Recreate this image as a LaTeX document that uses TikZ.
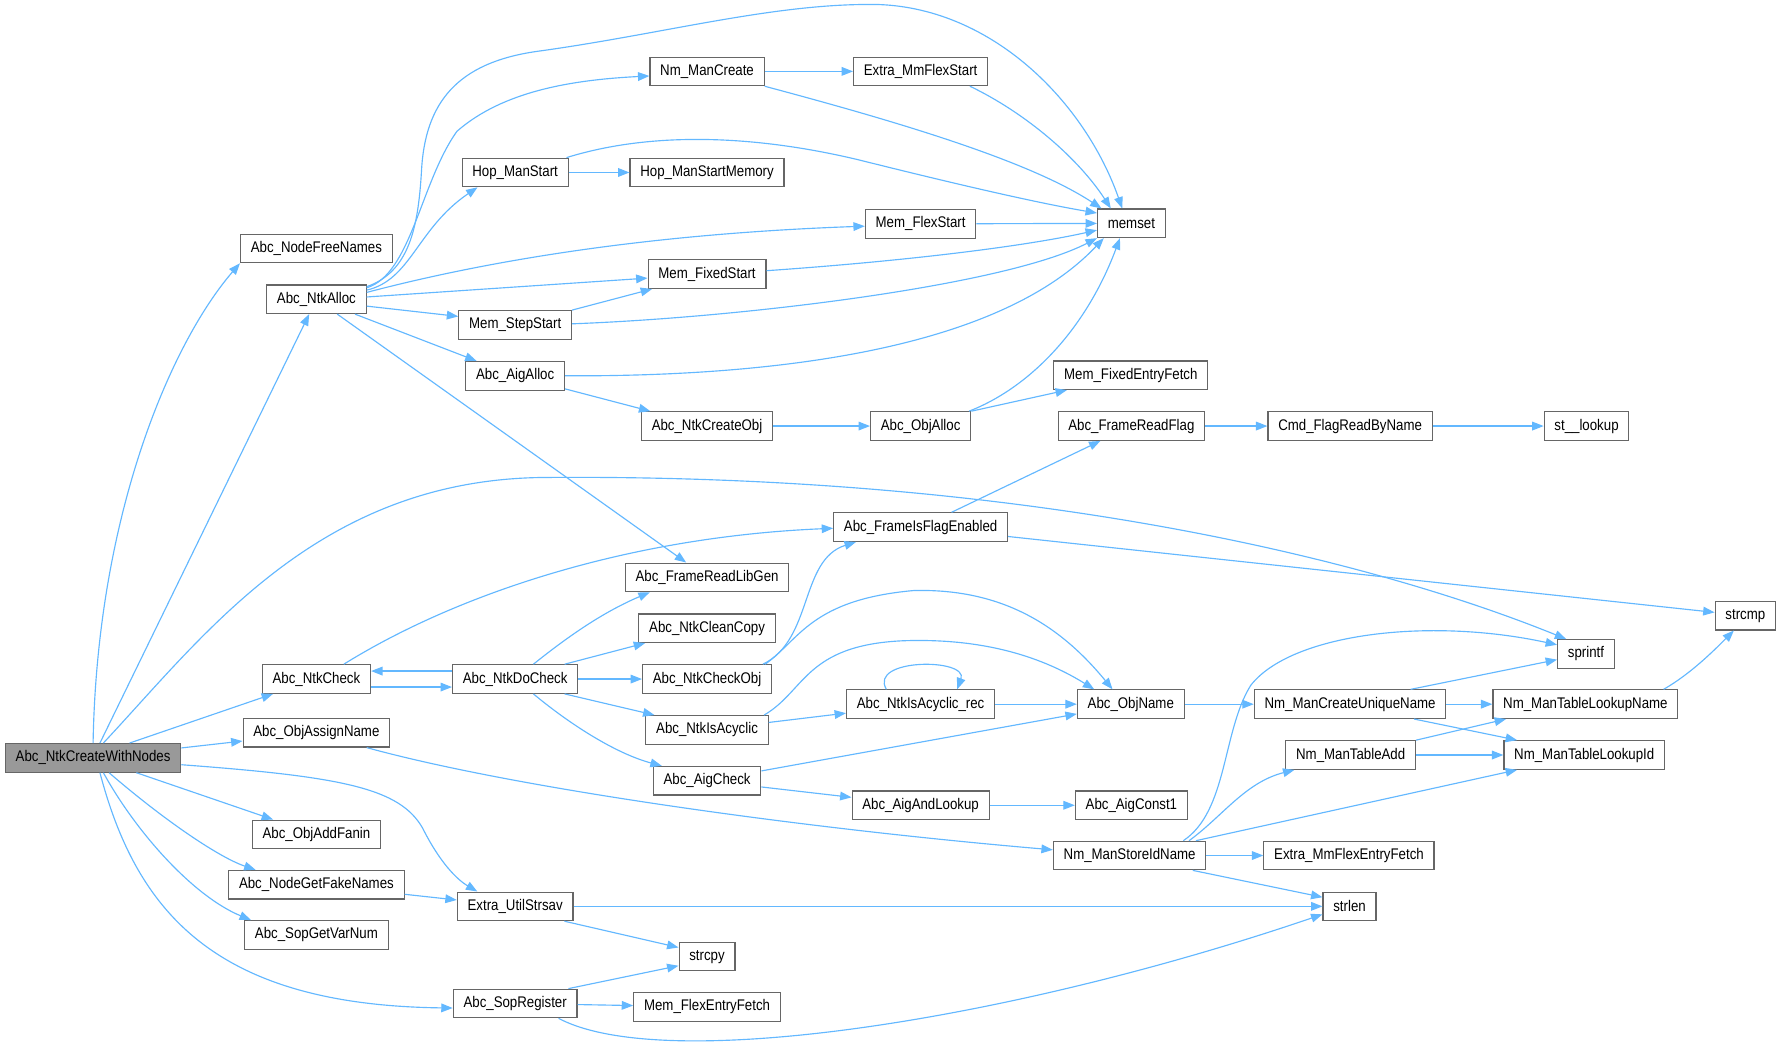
\documentclass[tikz,border=0pt]{standalone}
\usepackage{fontspec}
\setmainfont{Liberation Sans}[FakeStretch=0.86]
\usetikzlibrary{arrows.meta}
\definecolor{edgeblue}{HTML}{63B8FF}
\definecolor{boxgray}{HTML}{666666}
\definecolor{rootgray}{HTML}{999999}

\begin{document}
\begin{tikzpicture}[x=0.5pt,y=-0.5pt,
  every node/.style={font=\fontsize{6.75}{8}\selectfont},
  fn/.style={draw=boxgray,fill=white,line width=.5pt,minimum height=12.5pt,inner xsep=4.5pt,inner ysep=0pt},
  root/.style={fn,fill=rootgray},
  call/.style={draw=edgeblue,line width=.5pt,-{Triangle[length=5pt,width=3.8pt]}}]
\useasboundingbox (0,0) rectangle (1568,915);
\fill[white] (0,0) rectangle (1568,915);
\node[root] (cwn) at (81.5,663.5) {Abc\_NtkCreateWithNodes};
\node[fn] (nfn) at (277,217.5) {Abc\_NodeFreeNames};
\node[fn] (ntkalloc) at (277,262) {Abc\_NtkAlloc};
\node[fn] (ntkcheck) at (277,594.5) {Abc\_NtkCheck};
\node[fn] (oan) at (277,641.5) {Abc\_ObjAssignName};
\node[fn] (oaf) at (277,730.5) {Abc\_ObjAddFanin};
\node[fn] (ngf) at (277,774.5) {Abc\_NodeGetFakeNames};
\node[fn] (sgv) at (277,818.5) {Abc\_SopGetVarNum};
\node[fn] (hopstart) at (451,151) {Hop\_ManStart};
\node[fn] (memstep) at (451,284.5) {Mem\_StepStart};
\node[fn] (aigalloc) at (451,329) {Abc\_AigAlloc};
\node[fn] (docheck) at (451,594.5) {Abc\_NtkDoCheck};
\node[fn] (eus) at (451,793.5) {Extra\_UtilStrsav};
\node[fn] (sopreg) at (451,878.5) {Abc\_SopRegister};
\node[fn] (nmcreate) at (619,62.5) {Nm\_ManCreate};
\node[fn] (hopmem) at (619,151) {Hop\_ManStartMemory};
\node[fn] (memfixed) at (619,240) {Mem\_FixedStart};
\node[fn] (ncobj) at (619,373) {Abc\_NtkCreateObj};
\node[fn] (frlg) at (619,505.5) {Abc\_FrameReadLibGen};
\node[fn] (cleancopy) at (619,550) {Abc\_NtkCleanCopy};
\node[fn] (checkobj) at (619,594.5) {Abc\_NtkCheckObj};
\node[fn] (nia) at (619,639) {Abc\_NtkIsAcyclic};
\node[fn] (aigcheck) at (619,683.5) {Abc\_AigCheck};
\node[fn] (strcpy) at (619,837.5) {strcpy};
\node[fn] (mfef) at (619,881.5) {Mem\_FlexEntryFetch};
\node[fn] (extramm) at (806,62.5) {Extra\_MmFlexStart};
\node[fn] (memflex) at (806,196) {Mem\_FlexStart};
\node[fn] (objalloc) at (806,373) {Abc\_ObjAlloc};
\node[fn] (fife) at (806,461.5) {Abc\_FrameIsFlagEnabled};
\node[fn] (niarec) at (806,616.5) {Abc\_NtkIsAcyclic\_rec};
\node[fn] (aal) at (806,705) {Abc\_AigAndLookup};
\node[fn] (memset) at (990.5,195.5) {memset};
\node[fn] (mfixfetch) at (990,328.5) {Mem\_FixedEntryFetch};
\node[fn] (frf) at (990.5,373) {Abc\_FrameReadFlag};
\node[fn] (objname) at (990,616.5) {Abc\_ObjName};
\node[fn] (aigconst) at (990.5,705) {Abc\_AigConst1};
\node[fn] (storeid) at (989,749) {Nm\_ManStoreIdName};
\node[fn] (cmdflag) at (1182,373) {Cmd\_FlagReadByName};
\node[fn] (unique) at (1182,616.5) {Nm\_ManCreateUniqueName};
\node[fn] (tableadd) at (1182.5,661) {Nm\_ManTableAdd};
\node[fn] (mmfef) at (1181,749) {Extra\_MmFlexEntryFetch};
\node[fn] (strlen) at (1181.5,793.5) {strlen};
\node[fn] (stlookup) at (1389,373) {st\_\_lookup};
\node[fn] (sprintf) at (1388.5,572.5) {sprintf};
\node[fn] (lkname) at (1388,616.5) {Nm\_ManTableLookupName};
\node[fn] (lkid) at (1387,661) {Nm\_ManTableLookupId};
\node[fn] (strcmp) at (1528,539) {strcmp};
\draw[call] (cwn.north) .. controls (85,450) and (150,300) .. (nfn.south west);
\draw[call] ([xshift=3pt]cwn.north) -- (ntkalloc);
\draw[call] ([xshift=4.5pt]cwn.north) .. controls (180,555) and (280,418) .. (480,418) .. controls (900,415) and (1200,490) .. ([xshift=4pt]sprintf.north west);
\draw[call] ([xshift=16pt]cwn.north) -- (ntkcheck);
\draw[call] (cwn) -- (oan);
\draw[call] (cwn) -- (oaf);
\draw[call] ([xshift=7pt]cwn.south) .. controls (140,715) and (190,750) .. ([xshift=12pt]ngf.north west);
\draw[call] ([xshift=4.5pt]cwn.south) .. controls (120,730) and (170,785) .. ([xshift=3pt]sgv.north west);
\draw[call] ([yshift=-3pt]cwn.east) .. controls (300,680) and (350,690) .. (370,725) .. controls (385,755) and (400,770) .. ([xshift=9pt]eus.north west);
\draw[call] ([xshift=3pt]cwn.south) .. controls (120,800) and (190,880) .. ([yshift=-2pt]sopreg.west);
\draw[call] ([yshift=-1pt]ntkalloc.north east) .. controls (358,238) and (366,200) .. (369,150) .. controls (372,90) and (400,55) .. (470,45) .. controls (580,30) and (680,2) .. (770,4) .. controls (870,8) and (950,90) .. ([xshift=-4pt]memset.north);
\draw[call] ([yshift=-1.5pt]ntkalloc.north east) .. controls (360,240) and (368,160) .. (400,115) .. controls (440,80) and (500,70) .. ([yshift=-2pt]nmcreate.west);
\draw[call] ([yshift=-2.5pt]ntkalloc.north east) .. controls (360,245) and (365,200) .. ([xshift=7pt]hopstart.south west);
\draw[call] ([yshift=-3.5pt]ntkalloc.north east) .. controls (420,230) and (560,205) .. ([yshift=-1pt]memflex.west);
\draw[call] ([yshift=-5.5pt]ntkalloc.north east) -- (memfixed);
\draw[call] ([yshift=-3pt]ntkalloc.east) -- ([yshift=3.75pt]memstep.west);
\draw[call] (ntkalloc) -- (aigalloc);
\draw[call] (ntkalloc) -- (frlg);
\draw[call] (nmcreate) -- (extramm);
\draw[call] (nmcreate.south east) .. controls (780,105) and (900,140) .. ([xshift=2pt]memset.north west);
\draw[call] ([xshift=-8pt]extramm.south east) .. controls (900,100) and (945,140) .. ([xshift=-9pt]memset.north);
\draw[call] (hopstart) -- (hopmem);
\draw[call] ([xshift=-1pt]hopstart.north east) .. controls (570,115) and (660,118) .. (752,140) .. controls (840,162) and (910,178) .. ([yshift=4.5pt]memset.west);
\draw[call] (memflex) -- (memset);
\draw[call] ([yshift=1.5pt]memfixed.east) .. controls (800,228) and (900,215) .. ([yshift=-3pt]memset.west);
\draw[call] (memstep.north east) -- ([xshift=2pt]memfixed.south west);
\draw[call] ([yshift=0.5pt]memstep.east) .. controls (650,278) and (880,250) .. (memset.south west);
\draw[call] (aigalloc.east) .. controls (700,330) and (880,300) .. ([xshift=3pt]memset.south west);
\draw[call] (aigalloc) -- (ncobj);
\draw[call] (ncobj) -- (objalloc);
\draw[call] ([xshift=-1pt]objalloc.north east) .. controls (900,340) and (950,290) .. ([xshift=-5pt]memset.south);
\draw[call] (objalloc.north east) -- ([xshift=6pt]mfixfetch.south west);
\draw[call] (frf) -- (cmdflag);
\draw[call] (cmdflag) -- (stlookup);
\draw[call] (fife) -- (frf);
\draw[call] (fife) -- (strcmp);
\draw[call] ([xshift=12pt]ntkcheck.north) .. controls (400,520) and (550,470) .. ([yshift=-0.5pt]fife.west);
\draw[call] ([yshift=-3.5pt]ntkcheck.east) -- ([yshift=-3.5pt]docheck.west);
\draw[call] ([yshift=3.5pt]docheck.west) -- ([yshift=3.5pt]ntkcheck.east);
\draw[call] ([xshift=8pt]docheck.north) .. controls (500,555) and (530,535) .. ([xshift=11pt]frlg.south west);
\draw[call] ([xshift=-6pt]docheck.north east) -- ([xshift=3pt]cleancopy.south west);
\draw[call] (docheck) -- (checkobj);
\draw[call] ([xshift=-6pt]docheck.south east) -- ([xshift=4pt]nia.north west);
\draw[call] ([xshift=8pt]docheck.south) .. controls (500,635) and (540,660) .. ([xshift=4pt]aigcheck.north west);
\draw[call] ([xshift=-4pt]checkobj.north east) .. controls (712,560) and (700,490) .. ([xshift=10pt]fife.south west);
\draw[call] ([xshift=-3pt]checkobj.north east) .. controls (700,560) and (710,525) .. (800,517) .. controls (880,515) and (930,550) .. ([xshift=-8pt]objname.north);
\draw[call] (nia) -- (niarec);
\draw[call] ([xshift=-2pt]nia.north east) .. controls (705,605) and (705,565) .. (790,561) .. controls (870,558) and (920,580) .. ([xshift=-16pt]objname.north);
\draw[call] ([xshift=-15pt]niarec.north) .. controls (760,576) and (848,576) .. ([xshift=16pt]niarec.north);
\draw[call] (niarec) -- (objname);
\draw[call] (aigcheck) -- (objname);
\draw[call] (aigcheck) -- (aal);
\draw[call] (aal) -- (aigconst);
\draw[call] (objname) -- (unique);
\draw[call] ([xshift=26.5pt]unique.north) -- ([yshift=-2.5pt]sprintf.west);
\draw[call] (unique) -- (lkname);
\draw[call] ([xshift=28pt]unique.south) -- ([xshift=6pt]lkid.north west);
\draw[call] (tableadd.north east) -- ([xshift=6pt]lkname.south west);
\draw[call] (tableadd) -- (lkid);
\draw[call] ([xshift=-6.5pt]lkname.north east) .. controls (1480,590) and (1500,570) .. ([xshift=-5pt]strcmp.south);
\draw[call] ([xshift=22pt]oan.south) .. controls (450,690) and (700,725) .. ([yshift=2.5pt]storeid.west);
\draw[call] ([xshift=23.5pt]storeid.north) .. controls (1075,710) and (1070,640) .. (1095,600) .. controls (1130,555) and (1250,540) .. ([yshift=4pt]sprintf.west);
\draw[call] ([xshift=26pt]storeid.north) .. controls (1070,715) and (1090,685) .. ([xshift=4pt]tableadd.south west);
\draw[call] ([xshift=29pt]storeid.north) -- ([xshift=6pt]lkid.south west);
\draw[call] (storeid) -- (mmfef);
\draw[call] ([xshift=-6pt]storeid.south east) -- ([yshift=4pt]strlen.west);
\draw[call] (eus) -- (strlen);
\draw[call] ([xshift=-4pt]eus.south east) -- ([yshift=4pt]strcpy.west);
\draw[call] ([xshift=-4pt]sopreg.north east) -- ([yshift=-4pt]strcpy.west);
\draw[call] (sopreg) -- (mfef);
\draw[call] ([xshift=19pt]sopreg.south) .. controls (580,940) and (880,895) .. ([yshift=-3.5pt]strlen.west);
\draw[call] (ngf) -- (eus);
\end{tikzpicture}
\end{document}
